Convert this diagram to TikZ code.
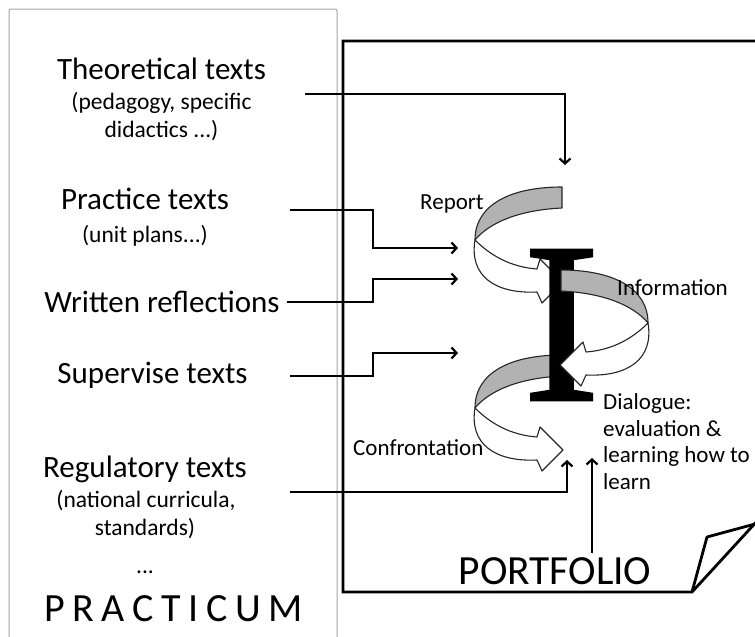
\documentclass[tikz,border=0pt]{standalone}
\usepackage{fontspec}
\setmainfont{Carlito}
\newfontfamily\serifI[FakeBold=1.3]{Liberation Serif}
\usetikzlibrary{arrows.meta}
\definecolor{bandgray}{RGB}{178,178,178}
\definecolor{boxgray}{RGB}{165,165,165}
\newcommand\graybandpath{(0,0) .. controls (0,-35) and (35,-53) .. (87,-53) -- (87,-32) .. controls (45,-30) and (15,-18) .. (0,0) -- cycle}
\newcommand\whitearrowpath{(0,0) .. controls (15,15) and (35,27) .. (62,29) -- (65,19) -- (88,42) -- (67,63) -- (62,52) .. controls (20,54) and (-6,36) .. (0,0) -- cycle}
\begin{document}
\begin{tikzpicture}[x=1pt,y=-1pt,
  head/.style={font=\fontsize{31}{37}\selectfont, anchor=base, inner sep=0},
  sub/.style={font=\fontsize{23.5}{28}\selectfont, anchor=base, inner sep=0},
  lab/.style={font=\fontsize{23}{26.7}\selectfont, anchor=base west, inner sep=0, align=left},
  big/.style={font=\fontsize{40}{44}\selectfont, anchor=base, inner sep=0},
  conn/.style={line width=2.2pt, -{Straight Barb[length=5pt,width=11pt]}},
  ribbon/.style={draw=black!85, line width=1.1pt, line join=round},
  grayribbon/.style={ribbon, fill=bandgray},
  whiteribbon/.style={ribbon, fill=white},
  pagestyle/.style={line width=2.8pt, line join=miter}
]
\clip (0,0) rectangle (755,637);
\fill[white] (0,0) rectangle (755,637);

% practicum frame
\draw[boxgray, line width=1pt, rounded corners=2pt] (9,9) rectangle (337,660);

% portfolio page
\draw[pagestyle] (770,41) -- (343,41) -- (343,592) -- (692,592) -- (770,507);
\draw[pagestyle, line join=round] (692,592) -- (707,537) -- (755,524);

% left texts
\node[head] (theo) at (161.5,79) {Theoretical texts};
\node[sub] (theo1) at (161.5,109.5) {(pedagogy, specific};
\node[sub] (theo2) at (161.5,137.5) {didactics ...)};
\node[head] (prac) at (145,209) {Practice texts};
\node[sub] (prac1) at (145,242) {(unit plans...)};
\node[head] (writ) at (162,312) {Written reflections};
\node[head] (supe) at (152.5,383) {Supervise texts};
\node[head] (regu) at (145,477) {Regulatory texts};
\node[sub] (regu1) at (146,507.5) {(national curricula,};
\node[sub] (regu2) at (145,535.5) {standards)};
\node[sub] (dots) at (145,573) {...};
\node[big] (practicum) at (173.5,621) {\addfontfeature{LetterSpace=19}PRACTICUM};
\node[big, font=\fontsize{41.5}{44}\selectfont] (portfolio) at (555,584) {PORTFOLIO};

% connectors
\coordinate (elbow) at (373,0);
\coordinate (theoS) at (305,94);   \coordinate (theoE) at (565,165);
\coordinate (pracS) at (290,210);  \coordinate (pracE) at (458,248);
\coordinate (writS) at (287,302);  \coordinate (writE) at (458,279);
\coordinate (supeS) at (290,376);  \coordinate (supeE) at (458,353);
\coordinate (reguS) at (290,492);  \coordinate (reguE) at (567,460);
\coordinate (portS) at (592,553);  \coordinate (portE) at (592,458);
\draw[conn] (theoS) -| (theoE);
\draw[conn] (pracS) -- (pracS -| elbow) |- (pracE);
\draw[conn] (writS) -- (writS -| elbow) |- (writE);
\draw[conn] (supeS) -- (supeS -| elbow) |- (supeE);
\draw[conn] (reguS) -| (reguE);
\draw[conn] (portS) -- (portE);

% spiral
\begin{scope}[shift={(475,240)}]
  \path[whiteribbon] \whitearrowpath;
  \path[grayribbon] \graybandpath;
\end{scope}
\begin{scope}[shift={(475,408)}]
  \path[grayribbon] \graybandpath;
\end{scope}
\node[font=\serifI\fontsize{229}{229}\selectfont, anchor=base, inner sep=0] (bigI) at (561.5,400) {I};
\begin{scope}[shift={(648,323)}, xscale=-1]
  \path[grayribbon] \graybandpath;
  \path[whiteribbon] \whitearrowpath;
\end{scope}
\begin{scope}[shift={(475,408)}]
  \path[whiteribbon] \whitearrowpath;
\end{scope}

% labels
\node[lab] (report) at (420,209.5) {Report};
\node[lab] (info) at (617,295.5) {Information};
\node[lab] (confr) at (353,455.5) {Confrontation};
\node[lab] (dialog) at (603,489.5) {Dialogue:\\evaluation \&\\learning how to\\learn};
\end{tikzpicture}
\end{document}
